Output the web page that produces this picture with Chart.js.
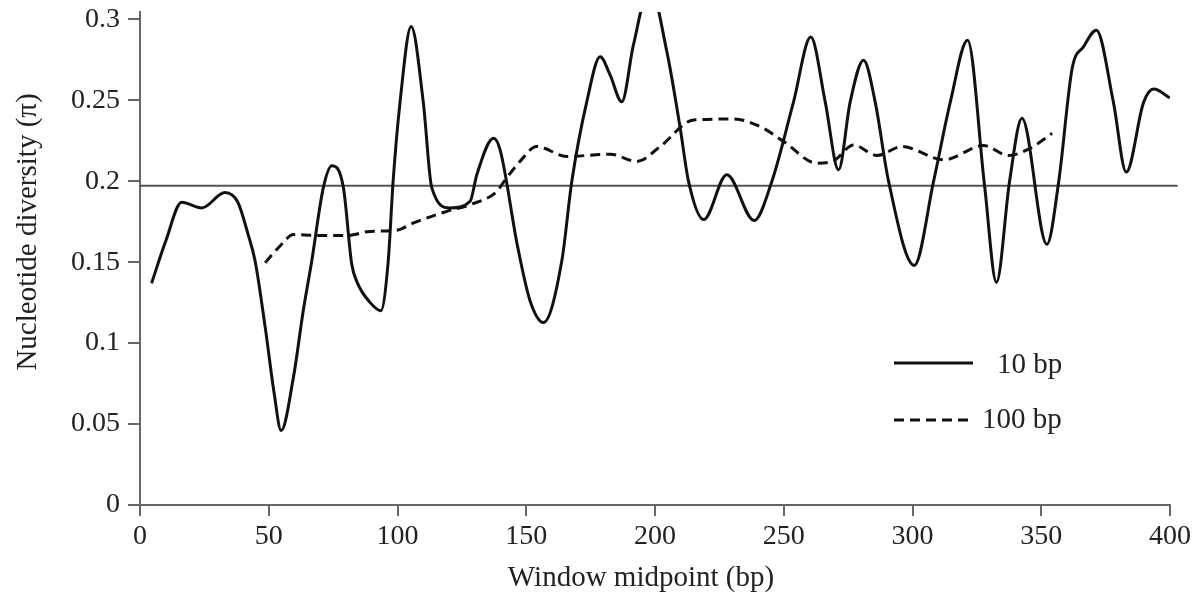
<!DOCTYPE html>
<html>
<head>
<meta charset="utf-8">
<script src="https://cdn.jsdelivr.net/npm/chart.js@4/dist/chart.umd.min.js"></script>
<style>
  html, body { margin: 0; padding: 0; background: #fff; }
  canvas { display: block; }
</style>
</head>
<body>
<canvas id="chart" width="1202" height="598"></canvas>
<script>
// 10 bp windows (solid line)
const win10 = [4.5, 10, 16.2, 24, 33, 38, 42, 44.7, 48.6, 52.1, 54.8, 59.6, 63.4, 66.7, 71.2, 74.5, 79, 82.2, 84.2, 89.4, 93.5,
  96.4, 98.3, 101, 105.3, 110, 113.3, 120.4, 128.2, 130.8, 137.3, 139.9, 146.6, 151.5, 156.7, 163.8, 167.7, 173.5, 178.7,
  182.6, 187.1, 191.6, 198, 204.6, 209.8, 213, 218.9, 227.9, 238.5, 245.4, 253.8, 260.5, 266.1, 271.3, 275.8, 281, 285.5,
  290.7, 300.7, 308.2, 314.7, 321.4, 328, 332.6, 337.7, 342.5, 352.2, 356.8, 362, 366.4, 371.4, 378, 383, 389.8, 393.7, 399.9];
const pi10 = [0.137, 0.163, 0.187, 0.1835, 0.193, 0.187, 0.167, 0.1507, 0.11, 0.069, 0.046, 0.079, 0.12, 0.1507, 0.196, 0.2095,
  0.196, 0.149, 0.138, 0.125, 0.12, 0.1507, 0.2, 0.249, 0.2956, 0.249, 0.196, 0.1835, 0.1876, 0.204, 0.2265, 0.219, 0.16,
  0.126, 0.1127, 0.1507, 0.2, 0.249, 0.2768, 0.2655, 0.249, 0.284, 0.32, 0.28, 0.2327, 0.2, 0.1763, 0.204, 0.1757, 0.2,
  0.249, 0.289, 0.249, 0.207, 0.249, 0.2747, 0.249, 0.2, 0.148, 0.2, 0.249, 0.287, 0.197, 0.1375, 0.2, 0.2388, 0.161,
  0.2, 0.2696, 0.283, 0.2932, 0.249, 0.2056, 0.249, 0.2569, 0.2515];

// 100 bp windows (dashed line)
const win100 = [48.6, 54.4, 59.6, 68.6, 80.3, 89.4, 99.7, 106.2, 119.2, 128.2, 138.6, 141, 148, 154, 165.8, 182.6, 193, 202,
  215, 230.5, 240.9, 250, 262.9, 269.4, 277.1, 286.2, 295.9, 312.1, 327.6, 337.3, 345.8, 354.2];
const pi100 = [0.1497, 0.16, 0.167, 0.1665, 0.1665, 0.169, 0.1697, 0.1742, 0.1814, 0.1855, 0.1937, 0.199, 0.213, 0.2214,
  0.2153, 0.2167, 0.2122, 0.2214, 0.2378, 0.2384, 0.2337, 0.2245, 0.2111, 0.2126, 0.2224, 0.2159, 0.2214, 0.2132, 0.222,
  0.2159, 0.2204, 0.2296];

// overall mean line
const meanPi = 0.1972;
const meanSpan = [0, 403];

const xTicks = [0, 50, 100, 150, 200, 250, 300, 350, 400];
const yTicks = [0, 0.05, 0.1, 0.15, 0.2, 0.25, 0.3];
const yTickLabels = ['0', '0.05', '0.1', '0.15', '0.2', '0.25', '0.3'];

const serif = "'Liberation Serif', 'Times New Roman', serif";
Chart.defaults.font.family = serif;
Chart.defaults.color = '#222';

function pts(xs, ys) {
  return xs.map((x, i) => ({ x: x, y: ys[i] }));
}

// titles and the legend sit at fixed spots, so draw them by hand
const overlay = {
  id: 'overlay',
  afterDraw(chart) {
    const c = chart.ctx;
    c.save();
    c.fillStyle = '#222';
    c.font = '29px ' + serif;
    c.textAlign = 'center';
    c.textBaseline = 'middle';
    c.fillText('Window midpoint (bp)', 641, 578);
    c.translate(28, 232);
    c.rotate(-Math.PI / 2);
    c.fillText('Nucleotide diversity (\u03c0)', 0, 0);
    c.restore();

    c.save();
    c.strokeStyle = '#111';
    c.lineWidth = 3;
    c.beginPath();
    c.moveTo(894, 363); c.lineTo(973, 363);
    c.stroke();
    c.setLineDash([10, 6]);
    c.beginPath();
    c.moveTo(894, 420); c.lineTo(973, 420);
    c.stroke();
    c.fillStyle = '#222';
    c.font = '29px ' + serif;
    c.textAlign = 'left';
    c.textBaseline = 'middle';
    c.fillText(chart.data.datasets[0].label, 997, 365);
    c.fillText(chart.data.datasets[1].label, 982, 420);
    c.restore();
  }
};

let ctx = document.getElementById('chart').getContext('2d');
let myChart = new Chart(ctx, {
  type: 'line',
  data: {
    datasets: [{
      label: '10 bp',
      data: pts(win10, pi10),
      borderColor: '#111',
      borderWidth: 3,
      pointRadius: 0,
      cubicInterpolationMode: 'monotone'
    }, {
      label: '100 bp',
      data: pts(win100, pi100),
      borderColor: '#111',
      borderWidth: 3,
      borderDash: [10, 6],
      pointRadius: 0,
      cubicInterpolationMode: 'monotone'
    }, {
      label: 'mean',
      data: meanSpan.map(x => ({ x: x, y: meanPi })),
      borderColor: '#555',
      borderWidth: 2,
      pointRadius: 0,
      clip: false
    }]
  },
  options: {
    responsive: false,
    animation: false,
    layout: { padding: { top: 12, right: 32, left: 0, bottom: 0 } },
    plugins: { legend: { display: false }, tooltip: { enabled: false } },
    scales: {
      x: {
        type: 'linear',
        min: 0,
        max: 400,
        afterBuildTicks: s => { s.ticks = xTicks.map(v => ({ value: v })); },
        afterFit: s => { s.height = 93; s.paddingLeft = 0; s.paddingRight = 0; },
        ticks: { font: { size: 28 }, padding: 4, maxRotation: 0 },
        grid: { drawOnChartArea: false, tickLength: 11, color: '#666', lineWidth: 2 },
        border: { color: '#666', width: 2 }
      },
      y: {
        min: 0,
        max: 0.3045,
        afterBuildTicks: s => { s.ticks = yTicks.map(v => ({ value: v })); },
        afterFit: s => { s.width = 140; s.paddingTop = 0; s.paddingBottom = 0; },
        ticks: {
          font: { size: 28 },
          padding: 8,
          callback: v => yTickLabels[yTicks.indexOf(v)]
        },
        grid: { drawOnChartArea: false, tickLength: 12, color: '#666', lineWidth: 2 },
        border: { color: '#666', width: 2 }
      }
    }
  },
  plugins: [overlay]
});
</script>
</body>
</html>
